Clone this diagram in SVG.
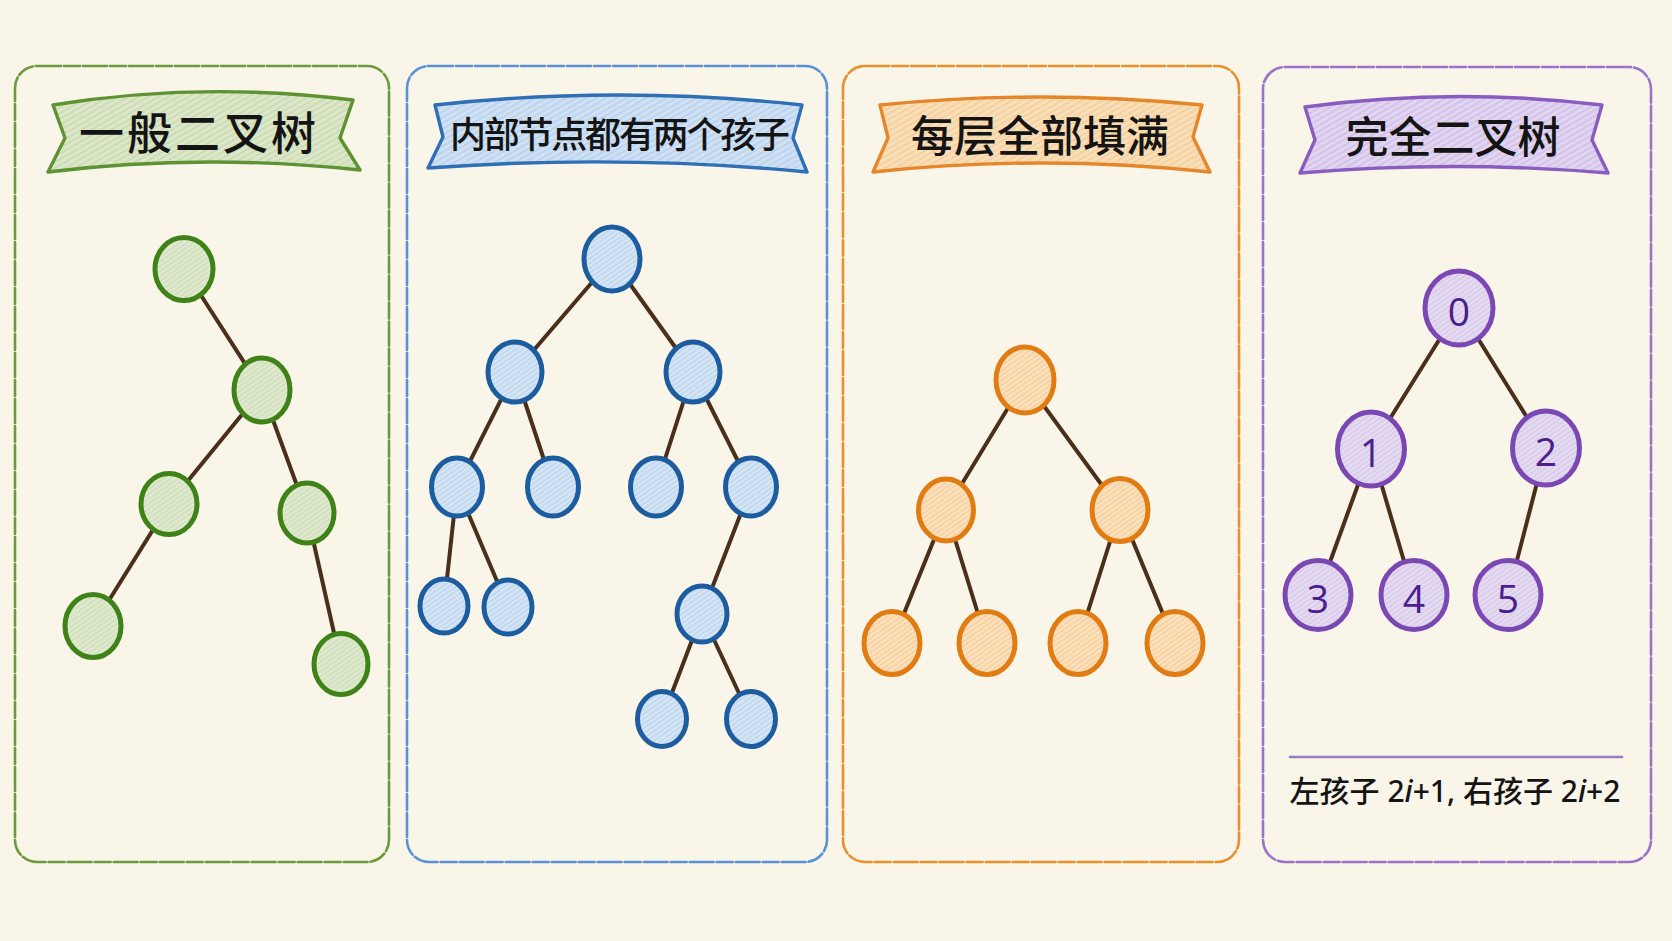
<svg xmlns="http://www.w3.org/2000/svg" width="1672" height="941" viewBox="0 0 1672 941">
<defs>
<pattern id="hg" width="8" height="8" patternUnits="userSpaceOnUse" patternTransform="rotate(-35)"><rect width="8" height="8" fill="#e0ead0"/><path d="M0 2H8M0 6H8" stroke="#cfdeb8" stroke-width="1.6"/></pattern>
<pattern id="hb" width="8" height="8" patternUnits="userSpaceOnUse" patternTransform="rotate(-35)"><rect width="8" height="8" fill="#d6e6f5"/><path d="M0 2H8M0 6H8" stroke="#bcd5ee" stroke-width="1.6"/></pattern>
<pattern id="ho" width="8" height="8" patternUnits="userSpaceOnUse" patternTransform="rotate(-35)"><rect width="8" height="8" fill="#fbe2c0"/><path d="M0 2H8M0 6H8" stroke="#f6cd98" stroke-width="1.6"/></pattern>
<pattern id="hp" width="8" height="8" patternUnits="userSpaceOnUse" patternTransform="rotate(-35)"><rect width="8" height="8" fill="#e6dcf1"/><path d="M0 2H8M0 6H8" stroke="#d6c8ea" stroke-width="1.6"/></pattern>
<pattern id="bg" width="10" height="10" patternUnits="userSpaceOnUse" patternTransform="rotate(-30)"><rect width="10" height="10" fill="#dbe7c8"/><path d="M0 3H10M0 8H10" stroke="#cddcb4" stroke-width="2"/></pattern>
<pattern id="bb" width="10" height="10" patternUnits="userSpaceOnUse" patternTransform="rotate(-30)"><rect width="10" height="10" fill="#cfe1f3"/><path d="M0 3H10M0 8H10" stroke="#bcd4ee" stroke-width="2"/></pattern>
<pattern id="bo" width="10" height="10" patternUnits="userSpaceOnUse" patternTransform="rotate(-30)"><rect width="10" height="10" fill="#f9dfb8"/><path d="M0 3H10M0 8H10" stroke="#f5d0a0" stroke-width="2"/></pattern>
<pattern id="bp" width="10" height="10" patternUnits="userSpaceOnUse" patternTransform="rotate(-30)"><rect width="10" height="10" fill="#e1d5f0"/><path d="M0 3H10M0 8H10" stroke="#d3c3ea" stroke-width="2"/></pattern>
</defs>
<style>
.panel{fill:none;stroke-width:2.6;stroke-dasharray:24 3 16 3;stroke-linecap:round}
.ribbon{stroke-width:3.4;stroke-linejoin:round}
.title{font-family:"Noto Sans CJK SC","Noto Sans CJK JP",sans-serif;font-weight:500;fill:#141414;text-anchor:middle;dominant-baseline:central}
.edge{stroke:#4a2f1c;stroke-width:4;stroke-linecap:round}
.ng{fill:url(#hg);stroke:#3f8218;stroke-width:5}
.nb{fill:url(#hb);stroke:#1d5c9e;stroke-width:5}
.no{fill:url(#ho);stroke:#e07c12;stroke-width:5}
.np{fill:url(#hp);stroke:#7b47b3;stroke-width:5}
.num{font-family:"Open Sans","Noto Sans",sans-serif;font-size:39px;fill:#4b1d8f;text-anchor:middle;dominant-baseline:central}
.note{font-family:"Noto Sans","Noto Sans CJK SC",sans-serif;font-size:30px;font-weight:500;fill:#141414;text-anchor:middle;dominant-baseline:central}
</style>
<rect width="1672" height="941" fill="#f9f5e9"/>

<g id="panel-general">
<rect class="panel" x="15" y="66" width="374" height="796" rx="22" stroke="#6b9b3a"/>
<path class="ribbon" d="M53,105 Q200,81 353,100 L340,138 L360,170 Q200,153 48,172 L65,138 Z" fill="url(#bg)" stroke="#5e9232"/>
<text class="title" x="199" y="130" font-size="45" letter-spacing="3">一般二叉树</text>
</g>
<g id="panel-full">
<rect class="panel" x="407" y="66" width="420" height="796" rx="22" stroke="#5a92d6"/>
<path class="ribbon" d="M435,105 Q620,85 802,105 L793,138 L807,172 Q620,154 428,168 L443,137 Z" fill="url(#bb)" stroke="#2f6fb5"/>
<text class="title" x="620" y="132" font-size="36" textLength="340" lengthAdjust="spacing">内部节点都有两个孩子</text>
</g>
<g id="panel-perfect">
<rect class="panel" x="843" y="66" width="396" height="796" rx="22" stroke="#e89030"/>
<path class="ribbon" d="M880,105 Q1040,89 1202,105 L1193,137 L1210,172 Q1040,154 873,172 L888,138 Z" fill="url(#bo)" stroke="#e6862a"/>
<text class="title" x="1040" y="133" font-size="43">每层全部填满</text>
</g>
<g id="panel-complete">
<rect class="panel" x="1263" y="67" width="388" height="795" rx="22" stroke="#9a74c8"/>
<path class="ribbon" d="M1305,107 Q1453,87 1602,105 L1592,140 L1608,173 Q1453,160 1300,173 L1315,140 Z" fill="url(#bp)" stroke="#8a5cc0"/>
<text class="title" x="1453" y="134" font-size="43">完全二叉树</text>
<line x1="1290" y1="757" x2="1622" y2="757" stroke="#9a7cc8" stroke-width="2.6" stroke-linecap="round"/>
<text class="note" x="1455" y="790">左孩子 2<tspan font-style="italic">i</tspan>+1, 右孩子 2<tspan font-style="italic">i</tspan>+2</text>
</g>

<g id="connectors">
<line class="edge" x1="184" y1="269" x2="262" y2="390"/>
<line class="edge" x1="262" y1="390" x2="169" y2="504"/>
<line class="edge" x1="262" y1="390" x2="307" y2="513"/>
<line class="edge" x1="169" y1="504" x2="93" y2="626"/>
<line class="edge" x1="307" y1="513" x2="341" y2="664"/>

<line class="edge" x1="612" y1="259" x2="515" y2="372"/>
<line class="edge" x1="612" y1="259" x2="693" y2="372"/>
<line class="edge" x1="515" y1="372" x2="457" y2="487"/>
<line class="edge" x1="515" y1="372" x2="553" y2="487"/>
<line class="edge" x1="693" y1="372" x2="656" y2="487"/>
<line class="edge" x1="693" y1="372" x2="751" y2="487"/>
<line class="edge" x1="457" y1="487" x2="444" y2="606"/>
<line class="edge" x1="457" y1="487" x2="508" y2="607"/>
<line class="edge" x1="751" y1="487" x2="702" y2="614"/>
<line class="edge" x1="702" y1="614" x2="662" y2="719"/>
<line class="edge" x1="702" y1="614" x2="751" y2="719"/>

<line class="edge" x1="1025" y1="380" x2="946" y2="510"/>
<line class="edge" x1="1025" y1="380" x2="1120" y2="510"/>
<line class="edge" x1="946" y1="510" x2="892" y2="643"/>
<line class="edge" x1="946" y1="510" x2="987" y2="643"/>
<line class="edge" x1="1120" y1="510" x2="1078" y2="643"/>
<line class="edge" x1="1120" y1="510" x2="1175" y2="643"/>

<line class="edge" x1="1459" y1="308" x2="1371" y2="449"/>
<line class="edge" x1="1459" y1="308" x2="1546" y2="448"/>
<line class="edge" x1="1371" y1="449" x2="1318" y2="595"/>
<line class="edge" x1="1371" y1="449" x2="1414" y2="595"/>
<line class="edge" x1="1546" y1="448" x2="1508" y2="595"/>
</g>

<g id="tree-general">
<g id="g-a"><ellipse class="ng" cx="184" cy="269" rx="29" ry="31.5"/></g>
<g id="g-b"><ellipse class="ng" cx="262" cy="390" rx="28" ry="32"/></g>
<g id="g-c"><ellipse class="ng" cx="169" cy="504" rx="28" ry="30.5"/></g>
<g id="g-d"><ellipse class="ng" cx="307" cy="513" rx="27" ry="30"/></g>
<g id="g-e"><ellipse class="ng" cx="93" cy="626" rx="28" ry="31.5"/></g>
<g id="g-f"><ellipse class="ng" cx="341" cy="664" rx="27" ry="30.5"/></g>
</g>

<g id="tree-full">
<g id="b-r"><ellipse class="nb" cx="612" cy="259" rx="28" ry="32"/></g>
<g id="b-l1"><ellipse class="nb" cx="515" cy="372" rx="27" ry="30"/></g>
<g id="b-r1"><ellipse class="nb" cx="693" cy="372" rx="27" ry="30"/></g>
<g id="b-ll"><ellipse class="nb" cx="457" cy="487" rx="25.5" ry="29"/></g>
<g id="b-lr"><ellipse class="nb" cx="553" cy="487" rx="25.5" ry="29"/></g>
<g id="b-rl"><ellipse class="nb" cx="656" cy="487" rx="25.5" ry="29"/></g>
<g id="b-rr"><ellipse class="nb" cx="751" cy="487" rx="25.5" ry="29"/></g>
<g id="b-lll"><ellipse class="nb" cx="444" cy="606" rx="24" ry="27"/></g>
<g id="b-llr"><ellipse class="nb" cx="508" cy="607" rx="24" ry="27"/></g>
<g id="b-rrc"><ellipse class="nb" cx="702" cy="614" rx="25" ry="28"/></g>
<g id="b-rrcl"><ellipse class="nb" cx="662" cy="719" rx="24.5" ry="27.5"/></g>
<g id="b-rrcr"><ellipse class="nb" cx="751" cy="719" rx="24.5" ry="27.5"/></g>
</g>

<g id="tree-perfect">
<g id="o-r"><ellipse class="no" cx="1025" cy="380" rx="29" ry="33"/></g>
<g id="o-l"><ellipse class="no" cx="946" cy="510" rx="27.5" ry="31"/></g>
<g id="o-rt"><ellipse class="no" cx="1120" cy="510" rx="28" ry="31.5"/></g>
<g id="o-ll"><ellipse class="no" cx="892" cy="643" rx="28" ry="31.5"/></g>
<g id="o-lr"><ellipse class="no" cx="987" cy="643" rx="28" ry="31.5"/></g>
<g id="o-rl"><ellipse class="no" cx="1078" cy="643" rx="28" ry="31.5"/></g>
<g id="o-rr"><ellipse class="no" cx="1175" cy="643" rx="28" ry="31.5"/></g>
</g>

<g id="tree-complete">
<g id="p-0"><ellipse class="np" cx="1459" cy="308" rx="34" ry="37"/><text class="num" x="1459" y="310">0</text></g>
<g id="p-1"><ellipse class="np" cx="1371" cy="449" rx="33.5" ry="37"/><text class="num" x="1371" y="451">1</text></g>
<g id="p-2"><ellipse class="np" cx="1546" cy="448" rx="33.5" ry="37"/><text class="num" x="1546" y="450">2</text></g>
<g id="p-3"><ellipse class="np" cx="1318" cy="595" rx="33" ry="34.5"/><text class="num" x="1318" y="597">3</text></g>
<g id="p-4"><ellipse class="np" cx="1414" cy="595" rx="33" ry="34.5"/><text class="num" x="1414" y="597">4</text></g>
<g id="p-5"><ellipse class="np" cx="1508" cy="595" rx="33" ry="34.5"/><text class="num" x="1508" y="597">5</text></g>
</g>
</svg>
